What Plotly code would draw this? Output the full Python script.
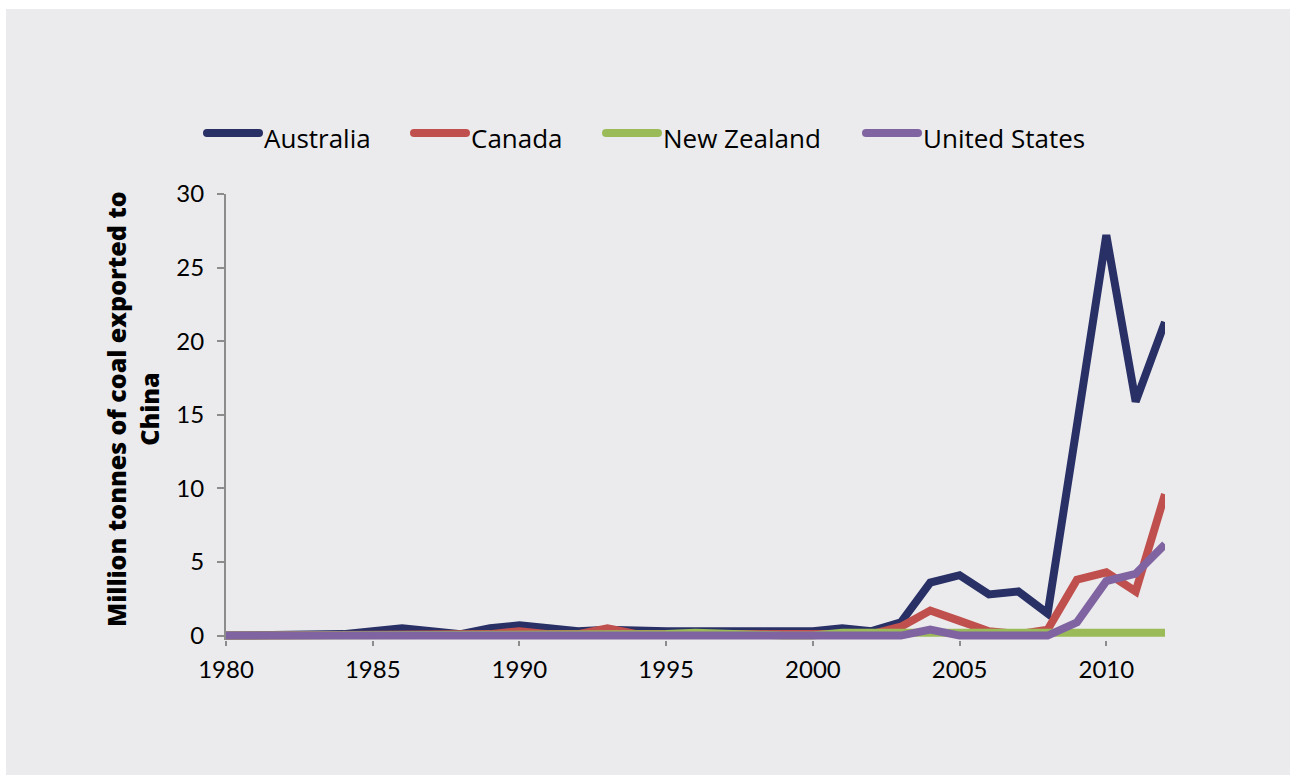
import plotly.graph_objects as go

years = list(range(1980, 2013))
series_names = ["Australia", "Canada", "New Zealand", "United States"]
colors = ["#283066", "#C0504D", "#9BBB59", "#8064A2"]

australia = [0, 0, 0, 0, 0.1, 0.3, 0.5, 0.3, 0.1, 0.5, 0.7, 0.5, 0.3, 0.4, 0.3,
             0.3, 0.3, 0.3, 0.3, 0.3, 0.3, 0.5, 0.3, 0.9, 3.6, 4.1, 2.8, 3.0, 1.5,
             14.3, 27.2, 15.9, 21.3]
canada = [0, 0, 0, 0, 0, 0, 0, 0, 0, 0.1, 0.3, 0.1, 0.1, 0.5, 0.1,
          0.1, 0.1, 0.1, 0, 0, 0, 0, 0.1, 0.6, 1.7, 1.0, 0.3, 0.1, 0.4,
          3.8, 4.3, 3.0, 9.6]
new_zealand = [0, 0, 0, 0, 0, 0, 0, 0, 0, 0, 0, 0, 0, 0, 0,
               0.1, 0.2, 0.1, 0, 0, 0, 0.2, 0.2, 0.2, 0.1, 0.1, 0.1, 0.1, 0.1,
               0.2, 0.2, 0.2, 0.2]
united_states = [0, 0, 0, 0, 0, 0, 0, 0, 0, 0, 0, 0, 0, 0, 0,
                 0, 0, 0, 0, 0, 0, 0, 0, 0, 0.4, 0, 0, 0, 0,
                 0.9, 3.7, 4.2, 6.2]
values = [australia, canada, new_zealand, united_states]

y_title = "Million tonnes of coal exported to<br>China"
x_ticks = [1980, 1985, 1990, 1995, 2000, 2005, 2010]
y_ticks = [0, 5, 10, 15, 20, 25, 30]

BG = "#EBEBED"
FONT = "Lato"
FONT2 = "Open Sans"

fig = go.Figure()
for name, vals, col in zip(series_names, values, colors):
    fig.add_trace(go.Scatter(
        x=years, y=vals, mode="lines", name=name,
        line=dict(color=col, width=8), showlegend=False,
    ))

# plot area in pixels (y range starts slightly below zero so the zero lines are not clipped)
Y_MIN = -0.3
L, R, T = 226, 1165, 194
B0 = 636
B = B0 + round(-Y_MIN * (B0 - T) / 30)
W, H = 1290, 775
pw, ph = R - L, B - T

def px_x(p):
    return (p - L) / pw

def px_y(p):
    return (B - p) / ph

shapes = [dict(type="rect", xref="paper", yref="paper",
               x0=px_x(6), x1=px_x(W + 5), y0=px_y(9), y1=px_y(H + 5),
               fillcolor=BG, line=dict(width=0), layer="below")]
annotations = []

leg_line_x = [203, 410, 602, 862]
leg_y = 133
for name, col, lx in zip(series_names, colors, leg_line_x):
    shapes.append(dict(type="line", xref="paper", yref="paper",
                       x0=px_x(lx + 4), x1=px_x(lx + 56), y0=px_y(leg_y), y1=px_y(leg_y),
                       line=dict(color=col, width=8)))
    shapes.append(dict(type="circle", xref="paper", yref="paper",
                       x0=px_x(lx), x1=px_x(lx + 8), y0=px_y(leg_y - 4), y1=px_y(leg_y + 4),
                       fillcolor=col, line=dict(width=0)))
    shapes.append(dict(type="circle", xref="paper", yref="paper",
                       x0=px_x(lx + 52), x1=px_x(lx + 60), y0=px_y(leg_y - 4), y1=px_y(leg_y + 4),
                       fillcolor=col, line=dict(width=0)))
    annotations.append(dict(text=name, xref="paper", yref="paper",
                            x=px_x(lx + 59), y=px_y(138), xanchor="left", yanchor="middle",
                            showarrow=False, font=dict(family=FONT2, size=26, color="#000")))

annotations.append(dict(text=y_title, xref="paper", yref="paper",
                        x=px_x(132), y=px_y(409), xanchor="center", yanchor="middle",
                        textangle=-90, showarrow=False,
                        font=dict(family=FONT2, size=25, color="#000", weight=800)))

fig.update_layout(
    width=W, height=H,
    margin=dict(l=L, r=W - R, t=T, b=H - B, pad=0),
    paper_bgcolor="white", plot_bgcolor=BG,
    showlegend=False,
    shapes=shapes, annotations=annotations,
    font=dict(family=FONT, size=22, color="#000"),
    xaxis=dict(range=[1980, 2012], tickvals=x_ticks, ticks="outside", ticklen=5,
               tickcolor="#8C8C8C", tickwidth=2, showline=False,
               showgrid=False, zeroline=False, ticklabelstandoff=3,
               tickfont=dict(family=FONT, size=24)),
    yaxis=dict(range=[Y_MIN, 30], tickvals=y_ticks, ticks="outside", ticklen=7,
               tickcolor="#8C8C8C", tickwidth=2, showline=True, linecolor="#8C8C8C",
               linewidth=2, showgrid=False, zeroline=False, ticklabelstandoff=8,
               tickfont=dict(family=FONT, size=24)),
)

fig.write_html("out.html", config={"displayModeBar": False},
               post_script="document.body.style.margin='0';")
